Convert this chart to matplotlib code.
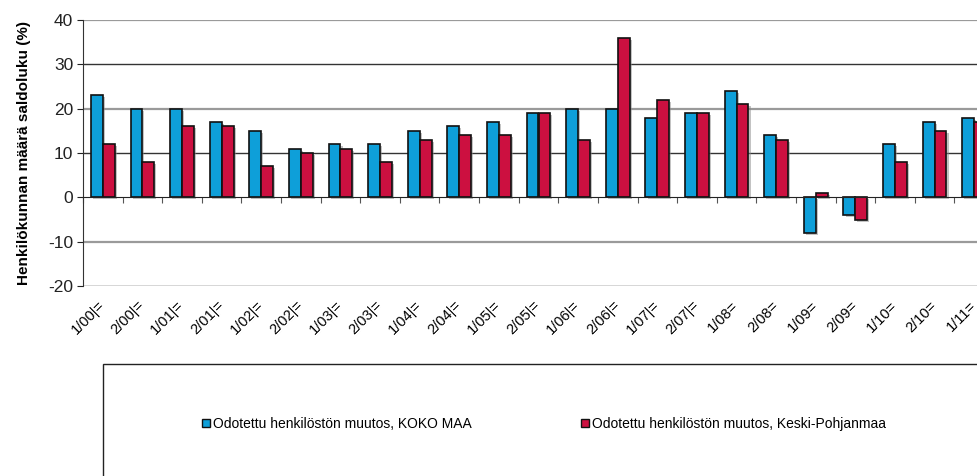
import numpy as np
import matplotlib.pyplot as plt
import matplotlib.patheffects as pe
from matplotlib.patches import Rectangle, Patch

plt.rcParams['font.family'] = ['Liberation Sans', 'DejaVu Sans']
plt.rcParams['axes.unicode_minus'] = False

# Data
periods = ['1/00|=', '2/00|=', '1/01|=', '2/01|=', '1/02|=', '2/02|=', '1/03|=', '2/03|=',
           '1/04|=', '2/04|=', '1/05|=', '2/05|=', '1/06|=', '2/06|=', '1/07|=', '2/07|=',
           '1/08=', '2/08=', '1/09=', '2/09=', '1/10=', '2/10=', '1/11=']
koko_maa = [23, 20, 20, 17, 15, 11, 12, 12, 15, 16, 17, 19, 20, 20, 18, 19, 24, 14, -8, -4, 12, 17, 18]
keski_pohjanmaa = [12, 8, 16, 16, 7, 10, 11, 8, 13, 14, 14, 19, 13, 36, 22, 19, 21, 13, 1, -5, 8, 15, 17]
yticks = [-20, -10, 0, 10, 20, 30, 40]

label_blue = 'Odotettu henkilöstön muutos, KOKO MAA'
label_red = 'Odotettu henkilöstön muutos, Keski-Pohjanmaa'
c_blue = '#0e9fd9'
c_red = '#cc1040'

fig = plt.figure(figsize=(9.78, 4.76), dpi=100)
ax = fig.add_axes([83/978, 1-286/476, (994-83)/978, (286-20)/476])

x = np.arange(len(periods))
w = 0.3
shadow = [pe.SimplePatchShadow(offset=(1.5, -1.5), shadow_rgbFace='#888888', alpha=0.5), pe.Normal()]
ax.bar(x - w/2, koko_maa, w, color=c_blue, edgecolor='#111111', linewidth=1.2,
       path_effects=shadow, zorder=3)
ax.bar(x + w/2, keski_pohjanmaa, w, color=c_red, edgecolor='#111111', linewidth=1.2,
       path_effects=shadow, zorder=3)

ax.set_xlim(-0.5, len(periods) - 0.5)
ax.set_ylim(-20, 40)

# gridlines (alternating tone as in the original)
for v in yticks:
    if v == 0:
        continue
    if v in (40, 20, -10):
        ax.axhline(v, color='#9a9a9a', linewidth=1.6, zorder=1)
    else:
        ax.axhline(v, color='#333333', linewidth=1.0, zorder=1)

for s in ['top', 'right']:
    ax.spines[s].set_visible(False)
ax.spines['left'].set_color('#333333')
ax.spines['bottom'].set_position(('data', 0))
ax.spines['bottom'].set_color('#222222')
ax.spines['bottom'].set_zorder(4)

ax.set_yticks(yticks)
ax.tick_params(axis='y', labelsize=12.5, colors='#222222', length=4, pad=3)
ax.set_xticks(np.arange(len(periods) + 1) - 0.5)
ax.set_xticklabels([])
ax.tick_params(axis='x', direction='out', length=4, color='#555555')

# category labels, nudged a little left of the group centre like the original
sec = ax.secondary_xaxis(0)
sec.set_xticks(x - 0.12)
sec.set_xticklabels(periods, rotation=45, ha='right', va='top', rotation_mode='anchor', fontsize=10.5)
sec.tick_params(length=0, pad=9)
sec.spines['bottom'].set_visible(False)

ax.set_ylabel('Henkilökunnan määrä saldoluku (%)', fontsize=11, fontweight='bold', labelpad=12)

# legend box
fig.patches.append(Rectangle((103/978, -0.05), 0.95, 1-364/476+0.05, transform=fig.transFigure,
                             facecolor='white', edgecolor='#222222', linewidth=1.0))
handles = [Patch(facecolor=c_blue, edgecolor='#111111'), Patch(facecolor=c_red, edgecolor='#111111')]
fig.legend(handles, [label_blue, label_red], ncol=2, frameon=False, fontsize=10,
           loc='center left', bbox_to_anchor=(190/978, 1-424/476), handlelength=0.55, handleheight=0.55,
           handletextpad=0.2, columnspacing=7.9)

fig.savefig('out.png', dpi=100)
